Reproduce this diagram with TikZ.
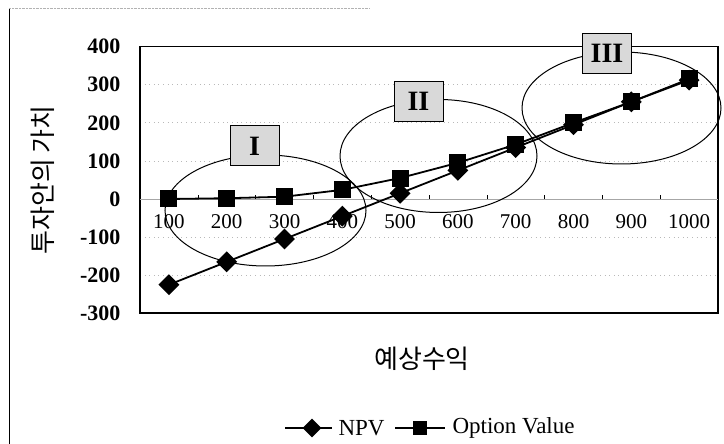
\documentclass[tikz,border=0pt]{standalone}
\usepackage{fontspec}
\setmainfont{Liberation Serif}
\newfontfamily\krfont{Noto Sans CJK KR}
\usetikzlibrary{shapes.geometric}

\tikzset{series/.style={line width=1.8pt},
         sqmark/.style={rectangle, fill=black, inner sep=0pt, minimum size=17pt},
         dimark/.style={diamond, fill=black, inner sep=0pt, minimum size=21pt},
         zone/.style={ellipse, draw, line width=1pt, inner sep=0pt},
         zonelabel/.style={rectangle, draw, line width=1pt, fill=gray!30,
                           minimum width=49pt, minimum height=40pt,
                           font=\fontsize{28}{28}\selectfont\bfseries},
         ylab/.style={anchor=east, font=\fontsize{22}{22}\selectfont\bfseries},
         xlab/.style={font=\fontsize{21}{21}\selectfont},
         grid/.style={gray!55, line width=0.6pt, loosely dotted}}

\begin{document}
\begin{tikzpicture}[x=1pt, y=1pt]
\useasboundingbox (0,0) rectangle (724,444);

% frame of the chart
\draw[line width=1pt] (9,0) -- (9,436);
\draw[gray!60, densely dotted] (9,436) -- (370,436);

% plot area: categories along x, values along y
\begin{scope}[shift={(111.1,245)}, x=57.8pt, y=0.381pt]
  \foreach \v in {-200,-100,100,200,300}
    \draw[grid] (0.5,\v) -- (10.5,\v);
  \draw[line width=1.6pt] (0.5,-300) rectangle (10.5,400);
  \draw[gray!70, line width=0.5pt] (0.5,0) -- (10.5,0);
  \foreach \j in {1,...,9}
    \draw[line width=0.6pt] (\j+0.5,0) -- ++(0,10);

  \foreach \v in {400,300,...,-300}
    \node[ylab] (yl\v) at ([xshift=-16pt]0.5,\v) {\v};
  \foreach \c [count=\i] in {100,200,...,1000}
    \node[xlab] (xl\i) at (\i,-60) {\c};

  % NPV
  \foreach \v [count=\i] in {-225,-165,-105,-45,15,75,135,195,255,312}
    \coordinate (n\i) at (\i,\v);
  % option value
  \foreach \v [count=\i] in {0,2,6,24,55,95,143,200,255,315}
    \coordinate (o\i) at (\i,\v);

  \draw[series] (n1) \foreach \i in {2,...,10} { -- (n\i) };
  \draw[series] (o1) \foreach \i in {2,...,10} { -- (o\i) };
  \foreach \i in {1,...,10} {
    \node[dimark] (nm\i) at (n\i) {};
    \node[sqmark] (om\i) at (o\i) {};
  }
\end{scope}

% the three zones
\node[zone, minimum width=201pt, minimum height=111pt] (z1) at (265.5,233.5) {};
\node[zone, minimum width=197pt, minimum height=113pt] (z2) at (438.5,288) {};
\node[zone, minimum width=199pt, minimum height=112pt] (z3) at (621.5,336) {};
\node[zonelabel] (l1) at (254.5,298) {I};
\node[zonelabel] (l2) at (418.5,342.5) {II};
\node[zonelabel] (l3) at (607,390.5) {III};

% axis titles
\node[rotate=90, font=\krfont\fontsize{26}{26}\selectfont] (ytitle) at (43,264) {투자안의 가치};
\node[font=\krfont\fontsize{26}{26}\selectfont] (xtitle) at (422,85) {예상수익};

% legend
\coordinate (la) at (285,16);
\coordinate (lb) at (332,16);
\coordinate (lc) at (395,16);
\coordinate (ld) at (445,16);
\draw[line width=1.4pt] (la) -- (lb);
\draw[line width=1.4pt] (lc) -- (ld);
\node[dimark, minimum size=19pt] (legn) at (312,16) {};
\node[sqmark, minimum size=14pt] (lego) at (420,16) {};
\node[anchor=west, font=\fontsize{23}{23}\selectfont] (legnt) at (335,16) {NPV};
\node[anchor=west, font=\fontsize{23}{23}\selectfont] (legot) at (449,16) {Option Value};
\end{tikzpicture}
\end{document}
